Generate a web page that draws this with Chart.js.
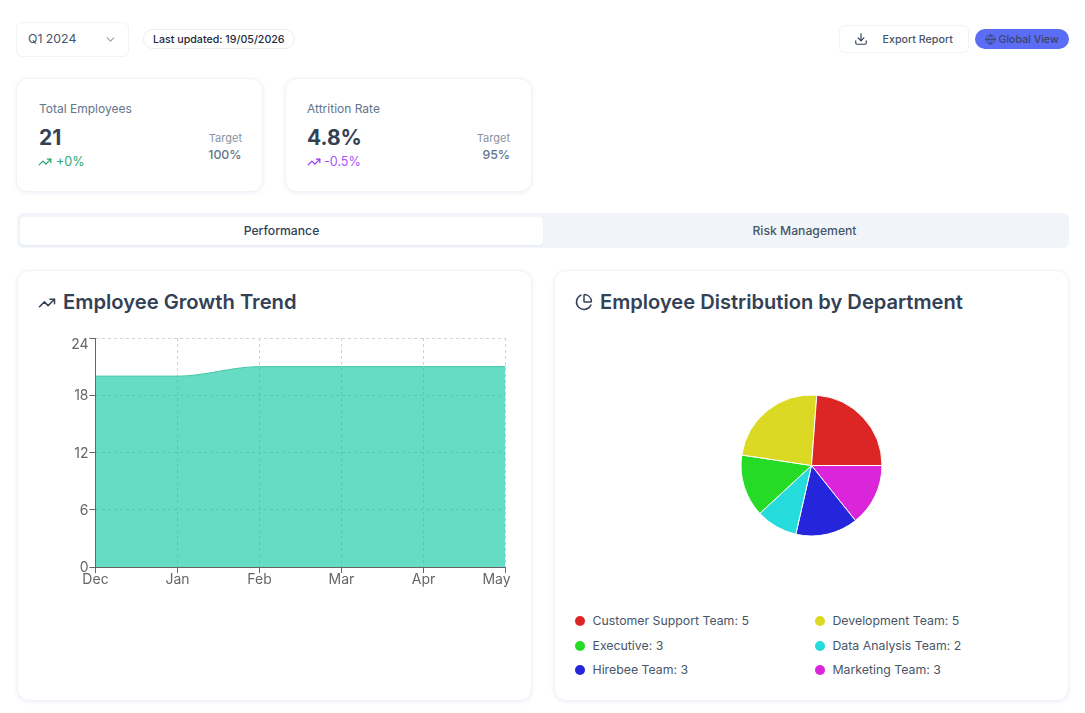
<!DOCTYPE html>
<html><head><meta charset="utf-8">
<script src="https://cdn.jsdelivr.net/npm/chart.js@4/dist/chart.umd.min.js"></script>
<style>
*{box-sizing:border-box}
html,body{margin:0;padding:0;width:1085px;height:713px;overflow:hidden;background:#fff;font-family:Inter,sans-serif;color:#334155}
.a{position:absolute}
.box{background:#fff;border:1px solid #f1f3f7;border-radius:12px;box-shadow:0 1px 4px rgba(90,100,200,.10)}
.t{position:absolute;white-space:nowrap;line-height:1}
svg{position:absolute;fill:none;stroke:currentColor;stroke-width:2;stroke-linecap:round;stroke-linejoin:round}
canvas{position:absolute}
.dot{position:absolute;width:10px;height:10px;border-radius:50%}
</style></head><body>
<div class="a box" style="left:16px;top:22px;width:113px;height:35px;border-radius:6px;box-shadow:none"></div>
<div class="t" style="left:28px;top:33px;font-size:12.3px;color:#475569">Q1 2024</div>
<svg style="left:104px;top:33px;color:#94a3b8" width="13" height="13" viewBox="0 0 24 24"><path d="m6 9 6 6 6-6"/></svg>
<div class="a" style="left:143px;top:29px;width:152px;height:20px;border:1px solid #e9edf2;border-radius:10px"></div>
<div class="t" style="left:153px;top:35px;font-size:10.67px;font-weight:500;color:#1e293b">Last updated: 19/05/2026</div>

<div class="a box" style="left:839px;top:25px;width:130px;height:28px;border-radius:6px;box-shadow:none"></div>
<svg style="left:854px;top:32px;color:#334155" width="14" height="14" viewBox="0 0 24 24"><path d="M21 15v4a2 2 0 0 1-2 2H5a2 2 0 0 1-2-2v-4"/><path d="m7 10 5 5 5-5"/><path d="M12 15V3"/></svg>
<div class="t" style="left:882.5px;top:35px;font-size:10.7px;font-weight:500;color:#475569">Export Report</div>
<div class="a" style="left:975px;top:29px;width:94px;height:20px;background:#5B6CF5;border-radius:10px"></div>
<svg style="left:985px;top:34px;color:#334155;stroke-width:1.6" width="11" height="11" viewBox="0 0 24 24"><circle cx="12" cy="12" r="10"/><path d="M12 2a14.5 14.5 0 0 0 0 20 14.5 14.5 0 0 0 0-20"/><path d="M2 12h20"/></svg>
<div class="t" style="left:998.5px;top:35px;font-size:10.6px;font-weight:500;color:#3a4468">Global View</div>

<div class="a box" style="left:16px;top:78px;width:247px;height:114px"></div>
<div class="t" style="left:39px;top:103px;font-size:12px;font-weight:400;color:#64748b">Total Employees</div>
<div class="t" style="left:39px;top:127px;font-size:21px;font-weight:700;color:#334155">21</div>
<svg style="left:38px;top:155px;color:#22a06b" width="14" height="14" viewBox="0 0 24 24"><path d="M22 7 13.5 15.5l-5-5L2 17"/><path d="M16 7h6v6"/></svg>
<div class="t" style="left:56px;top:156px;font-size:12.6px;color:#2aa876">+0%</div>
<div class="t" style="right:843px;top:133px;font-size:11px;color:#8a93a3">Target</div>
<div class="t" style="right:843.5px;top:149px;font-size:12.3px;font-weight:500;color:#64748b">100%</div>

<div class="a box" style="left:285px;top:78px;width:247px;height:114px"></div>
<div class="t" style="left:307px;top:103px;font-size:12px;font-weight:400;color:#64748b">Attrition Rate</div>
<div class="t" style="left:307px;top:127px;font-size:21px;font-weight:700;color:#334155">4.8%</div>
<svg style="left:307px;top:155px;color:#9333ea" width="14" height="14" viewBox="0 0 24 24"><path d="M22 7 13.5 15.5l-5-5L2 17"/><path d="M16 7h6v6"/></svg>
<div class="t" style="left:324px;top:156px;font-size:12.6px;color:#a855f7">-0.5%</div>
<div class="t" style="right:575px;top:133px;font-size:11px;color:#8a93a3">Target</div>
<div class="t" style="right:575px;top:149px;font-size:12.3px;font-weight:500;color:#64748b">95%</div>

<div class="a" style="left:17px;top:213px;width:1052px;height:35px;background:#f1f5f9;border-radius:6px"></div>
<div class="a" style="left:20px;top:217px;width:523px;height:28px;background:#fff;border-radius:4px;box-shadow:0 1px 2px rgba(0,0,0,.06)"></div>
<div class="t" style="left:20px;width:523px;top:225px;text-align:center;font-size:12.2px;font-weight:500;color:#334155">Performance</div>
<div class="t" style="left:543px;width:523px;top:225px;text-align:center;font-size:12.2px;font-weight:500;color:#475569">Risk Management</div>

<div class="a box" style="left:17px;top:270px;width:515px;height:431px"></div>
<svg style="left:38px;top:294px;color:#334155" width="18" height="18" viewBox="0 0 24 24"><path d="M22 7 13.5 15.5l-5-5L2 17"/><path d="M16 7h6v6"/></svg>
<div class="t" style="left:63px;top:292px;font-size:20.2px;font-weight:600;color:#334155">Employee Growth Trend</div>
<canvas id="trend" style="left:40px;top:328px;width:480px;height:262px" width="480" height="262"></canvas>

<div class="a box" style="left:554px;top:270px;width:515px;height:431px"></div>
<svg style="left:575px;top:293px;color:#334155" width="18" height="18" viewBox="0 0 24 24"><path d="M21 12c.552 0 1.005-.449.95-.998a10 10 0 0 0-8.953-8.951c-.55-.055-.998.398-.998.95v8a1 1 0 0 0 1 1z"/><path d="M21.21 15.89A10 10 0 1 1 8 2.83"/></svg>
<div class="t" style="left:600px;top:292px;font-size:20.1px;font-weight:600;color:#334155">Employee Distribution by Department</div>
<canvas id="pie" style="left:731px;top:385px;width:161px;height:161px" width="161" height="161"></canvas>
<div id="legend"></div>

<script>
const months = ['Dec','Jan','Feb','Mar','Apr','May'];
const employees = [20,20,21,21,21,21];
const yTicks = [0,6,12,18,24];
const departments = ['Customer Support Team','Development Team','Executive','Data Analysis Team','Hirebee Team','Marketing Team'];
const headcount = [5,5,3,2,3,3];
const deptColors = ['#DC2626','#DBD924','#25DB25','#25DBDB','#2525DB','#DB25DB'];

Chart.defaults.font.family = 'Inter, sans-serif';
Chart.defaults.devicePixelRatio = 1;

const nudge = {
  id:'nudge',
  beforeDraw(chart){
    const y = chart.scales.y, x = chart.scales.x;
    y.getLabelItems(chart.chartArea).forEach(it=>{
      it.options.translation[1] += it.label==='24' ? 7 : 1;
    });
    x.getLabelItems(chart.chartArea).forEach(it=>{ if(it.label==='May') it.options.translation[0]-=9; });
  }
};

new Chart(document.getElementById('trend'),{
  type:'line',
  data:{labels:months,datasets:[{
    data:employees,
    borderColor:'#3fc4a6',borderWidth:1,
    backgroundColor:'rgba(0,196,159,.6)',
    fill:'origin',pointRadius:0,cubicInterpolationMode:'monotone'
  }]},
  plugins:[nudge],
  options:{
    responsive:false,animation:false,
    layout:{padding:{top:10,right:14.5,left:0,bottom:0}},
    plugins:{legend:{display:false},tooltip:{enabled:false}},
    scales:{
      x:{
        offset:false,
        border:{display:true,color:'#666',dash:[3,3]},
        grid:{color:'#d2d2d2',tickColor:'#666',tickLength:6,tickBorderDash:[]},
        ticks:{color:'#666',font:{size:14},padding:-2,maxRotation:0,autoSkip:false},
        afterFit(s){s.height=23;s.paddingLeft=0;s.paddingRight=0;}
      },
      y:{
        min:0,max:24,
        afterBuildTicks(s){s.ticks=yTicks.map(v=>({value:v}));},
        border:{display:true,color:'#666',dash:[3,3]},
        grid:{color:'#d2d2d2',tickColor:'#666',tickLength:6,tickBorderDash:[]},
        ticks:{color:'#666',font:{size:14},padding:1},
        afterFit(s){s.width=55.5;s.paddingTop=0;s.paddingBottom=0;}
      }
    }
  }
});

new Chart(document.getElementById('pie'),{
  type:'pie',
  data:{labels:departments.slice().reverse(),datasets:[{
    data:headcount.slice().reverse(),
    backgroundColor:deptColors.slice().reverse(),
    borderColor:'#fff',borderWidth:1
  }]},
  options:{
    responsive:false,animation:false,rotation:90,radius:70.5,
    plugins:{legend:{display:false},tooltip:{enabled:false}}
  }
});

const lg = document.getElementById('legend');
const rowTops = [620.5,645.5,669.5], colLefts = [575,815];
departments.forEach((d,i)=>{
  const c = i%2, r = Math.floor(i/2);
  const dot = document.createElement('div');
  dot.className='dot';
  dot.style.cssText=`left:${colLefts[c]}px;top:${rowTops[r]-5}px;background:${deptColors[i]}`;
  const t = document.createElement('div');
  t.className='t';
  t.style.cssText=`left:${colLefts[c]+17.5}px;top:${rowTops[r]-6}px;font-size:12.3px;color:#475569`;
  t.textContent=`${d}: ${headcount[i]}`;
  lg.append(dot,t);
});
</script>
</body></html>
